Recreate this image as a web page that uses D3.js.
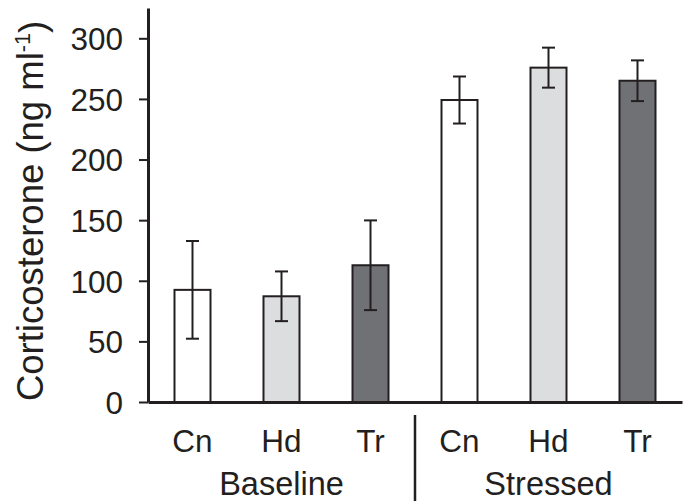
<!DOCTYPE html>
<html>
<head>
<meta charset="utf-8">
<script src="https://cdn.jsdelivr.net/npm/d3@7"></script>
<style>
  html, body { margin: 0; padding: 0; background: #fff; }
  svg { display: block; }
  text { font-family: "Liberation Sans", Arial, sans-serif; fill: #231f20; }
</style>
</head>
<body>
<svg id="chart" width="689" height="501"></svg>
<script>
const treatments = ["Cn", "Hd", "Tr"];
const groups = ["Baseline", "Stressed"];
const baselineMeans = [92.5, 87.2, 112.8];
const baselineErrors = [40.3, 20.5, 37.0];
const stressedMeans = [249.1, 275.8, 265.0];
const stressedErrors = [19.4, 16.5, 16.8];
const yTicks = [0, 50, 100, 150, 200, 250, 300];
const fills = ["#ffffff", "#dcdddf", "#707175"];

const ink = "#231f20";
const rows = [];
groups.forEach((g, gi) => {
  const means = gi === 0 ? baselineMeans : stressedMeans;
  const errs = gi === 0 ? baselineErrors : stressedErrors;
  treatments.forEach((t, ti) => {
    rows.push({ key: g + "-" + t, group: g, treatment: t, ti, mean: means[ti], err: errs[ti] });
  });
});

const svg = d3.select("#chart");
const x = d3.scaleBand().domain(rows.map(d => d.key)).range([148, 682]).paddingInner(0.5955).paddingOuter(0.5955 / 2);
const y = d3.scaleLinear().domain([0, 325]).range([402, 8]);
const color = d3.scaleOrdinal().domain(treatments).range(fills);

// bars
svg.append("g").selectAll("rect").data(rows).join("rect")
  .attr("x", d => x(d.key))
  .attr("y", d => y(d.mean))
  .attr("width", x.bandwidth())
  .attr("height", d => y(0) - y(d.mean))
  .attr("fill", d => color(d.treatment))
  .attr("stroke", ink)
  .attr("stroke-width", 2);

// error bars
const eb = svg.append("g").attr("stroke", ink).attr("stroke-width", 2);
const cx = d => x(d.key) + x.bandwidth() / 2;
const capHalf = 6.5;
eb.selectAll("line.v").data(rows).join("line").attr("class", "v")
  .attr("x1", cx).attr("x2", cx)
  .attr("y1", d => y(d.mean + d.err)).attr("y2", d => y(d.mean - d.err));
eb.selectAll("line.t").data(rows).join("line").attr("class", "t")
  .attr("x1", d => cx(d) - capHalf).attr("x2", d => cx(d) + capHalf)
  .attr("y1", d => y(d.mean + d.err)).attr("y2", d => y(d.mean + d.err));
eb.selectAll("line.b").data(rows).join("line").attr("class", "b")
  .attr("x1", d => cx(d) - capHalf).attr("x2", d => cx(d) + capHalf)
  .attr("y1", d => y(d.mean - d.err)).attr("y2", d => y(d.mean - d.err));

// y axis
const yAxis = svg.append("g").attr("transform", "translate(148,0)")
  .call(d3.axisLeft(y).tickValues(yTicks).tickSize(9).tickPadding(16).tickSizeOuter(0));
yAxis.select(".domain").attr("stroke", ink).attr("stroke-width", 3);
yAxis.selectAll(".tick line").attr("stroke", ink).attr("stroke-width", 2);
yAxis.selectAll(".tick text").attr("font-size", 31.5).attr("font-family", "Liberation Sans, Arial, sans-serif").attr("fill", ink).attr("dy", "0.36em");

// x axis line
const xAxis = svg.append("g").attr("transform", "translate(0,402)")
  .call(d3.axisBottom(x).tickSize(0).tickSizeOuter(0).tickFormat(() => ""));
xAxis.select(".domain").attr("stroke", ink).attr("stroke-width", 3);

// category labels
svg.append("g").selectAll("text").data(rows).join("text")
  .attr("x", cx).attr("y", 452)
  .attr("text-anchor", "middle").attr("font-size", 31.5)
  .text(d => d.treatment);

// group labels
svg.append("g").selectAll("text").data(groups).join("text")
  .attr("x", g => {
    const keys = rows.filter(r => r.group === g).map(r => r.key);
    return (x(keys[0]) + x(keys[keys.length - 1]) + x.bandwidth()) / 2;
  })
  .attr("y", 495)
  .attr("text-anchor", "middle").attr("font-size", 32.5)
  .text(g => g);

// group separator
const sepX = (x("Baseline-Tr") + x.bandwidth() + x("Stressed-Cn")) / 2;
svg.append("line").attr("x1", sepX).attr("x2", sepX).attr("y1", 415).attr("y2", 501)
  .attr("stroke", ink).attr("stroke-width", 2.5);

// y title
const title = svg.append("text")
  .attr("transform", "translate(43,211) rotate(-90)")
  .attr("text-anchor", "middle").attr("font-size", 36.5);
title.append("tspan").text("Corticosterone (ng ml");
title.append("tspan").attr("font-size", 21.5).attr("dy", "-0.6em").text("-1");
title.append("tspan").attr("dy", "0.4em").text(")");
</script>
</body>
</html>
